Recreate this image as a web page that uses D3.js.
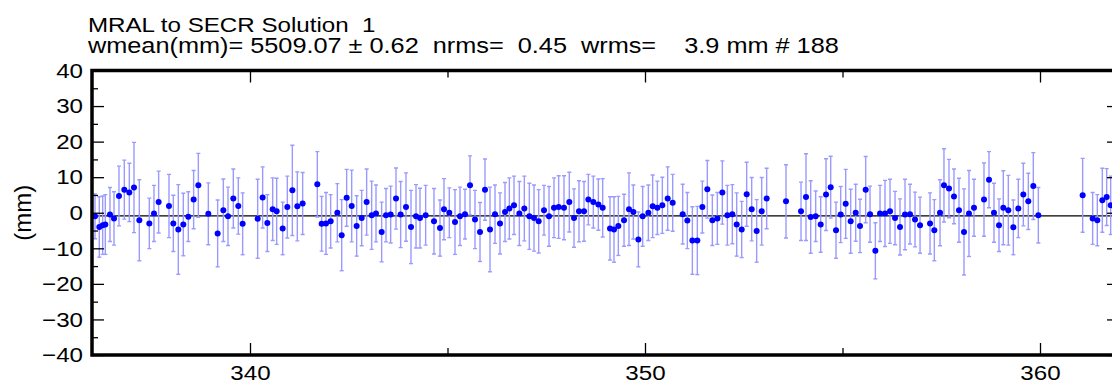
<!DOCTYPE html>
<html>
<head>
<meta charset="utf-8">
<script src="https://cdn.jsdelivr.net/npm/d3@7/dist/d3.min.js"></script>
<style>
    body { margin: 0; background: #fff; }
    text { font-family: "Liberation Sans", Arial, Helvetica, sans-serif; fill: #000; white-space: pre; }
</style>
</head>
<body>
<div id="chart"></div>
<script>
// title lines
const titleLines = [
    'MRAL to SECR Solution  1',
    'wmean(mm)= 5509.07 \u00b1 0.62  nrms=  0.45  wrms=    3.9 mm # 188'
];
const titleSizes = [21, 22];
const yLabel = '(mm)';

// axes
const xDomain = [336, 362];
const yDomain = [-40, 40];
const xMajorTicks = [340, 350, 360];
const xMinorTicks = [345, 355];
const yMajorTicks = [-40, -30, -20, -10, 0, 10, 20, 30, 40];
const yMinorTicks = [-35, -25, -15, -5, 5, 15, 25, 35];
const refLevel = -0.9;

// day of year
const days = [
    336.076, 336.185, 336.270, 336.337, 336.455, 336.557, 336.683, 336.818, 336.945, 337.063, 337.198,
    337.451, 337.569, 337.687, 337.949, 338.059, 338.185, 338.312, 338.438, 338.573, 338.692,
    338.945, 339.181, 339.325, 339.443, 339.578, 339.704, 339.814, 340.194, 340.320,
    340.439, 340.574, 340.675, 340.827, 340.945, 341.072, 341.198, 341.333, 341.704, 341.814,
    341.924, 342.042, 342.211, 342.321, 342.447, 342.574, 342.700, 342.827, 342.953, 343.080,
    343.190, 343.333, 343.443, 343.561, 343.696, 343.814, 343.949, 344.076, 344.203, 344.304, 344.447,
    344.658, 344.810, 344.911, 345.046, 345.190, 345.316, 345.443, 345.570, 345.696, 345.823,
    345.949, 346.076, 346.203, 346.329, 346.456, 346.566, 346.684, 346.819, 346.945, 347.072,
    347.190, 347.308, 347.443, 347.570, 347.696, 347.814, 347.949, 348.084, 348.203, 348.329,
    348.456, 348.566, 348.692, 348.819,
    348.929, 349.114, 349.215, 349.325, 349.469, 349.595, 349.705, 349.832, 349.941, 350.085,
    350.194, 350.313, 350.439, 350.574, 350.701, 350.954, 351.072, 351.199, 351.325, 351.452,
    351.578, 351.705, 351.832, 351.958, 352.085, 352.211, 352.321, 352.448, 352.574, 352.701,
    352.827, 352.954, 353.080,
    353.570, 353.950, 354.076, 354.195, 354.321, 354.448, 354.583, 354.701, 354.836, 354.954,
    355.081, 355.207, 355.334, 355.443, 355.587, 355.697, 355.832, 355.950, 356.076, 356.203,
    356.330, 356.456, 356.583, 356.709, 356.836, 356.963, 357.216, 357.325, 357.469,
    357.569, 357.696, 357.822, 357.949, 358.076, 358.202, 358.329, 358.582, 358.709, 358.835,
    358.962, 359.071, 359.198, 359.325, 359.451, 359.578, 359.704, 359.831, 359.958,
    361.080, 361.333, 361.451, 361.578, 361.688, 361.789
];

// residuals (mm)
const values = [
    -1.0, -4.0, -3.5, -3.3, -0.5, -1.6, 4.7, 6.5, 5.7, 7.1, -2.1,
    -3.0, -0.2, 3.0, 1.9, -3.0, -4.7, -3.3, -1.1, 3.7, 7.7,
    -0.3, -5.8, 0.7, -1.0, 4.0, 1.9, -3.1, -1.7, 4.3,
    -2.9, 1.0, 0.4, -4.4, 1.6, 6.3, 1.8, 2.6, 8.0, -3.1,
    -3.0, -2.4, 0.0, -6.3, 4.2, 1.9, -3.7, -1.5, 3.0, -0.7,
    -0.2, -5.4, -0.7, -0.5, 4.0, -0.5, 1.6, -4.0, -1.0, -1.5, -0.7,
    -2.4, -4.3, 1.0, 0.0, -2.6, -1.0, -0.4, 7.7, -1.9, -5.4,
    6.5, -4.7, -0.4, -3.0, 0.2, 1.2, 2.1, -0.2, 1.2, -1.0,
    -1.5, -2.4, 0.7, -1.0, 1.4, 1.6, 1.4, 3.0, -1.5, 0.4,
    0.4, 3.7, 3.0, 2.3,
    1.4, -4.4, -4.7, -3.7, -2.1, 1.0, 0.2, -7.5, -1.0, 0.0,
    1.8, 1.4, 2.1, 4.0, 2.8, -0.4, -2.2, -7.8, -7.8, 1.6,
    6.6, -2.1, -1.6, 5.7, -0.7, -0.4, -3.3, -4.7, 5.2, 1.0,
    -5.1, 0.4, 4.0,
    3.2, 0.4, 4.4, -1.2, -1.0, -3.3, 5.1, 7.2, -4.9, -0.5,
    2.5, -2.4, 0.0, -3.7, 6.5, -0.4, -10.7, -0.2, -0.2, 0.4,
    -1.5, -4.0, -0.5, -0.4, -1.9, -3.5, -3.0, -4.9, 0.0,
    7.7, 6.8, 4.6, 0.7, -5.4, -0.2, 1.4, 3.7, 9.3, 0.0,
    -3.5, 1.4, 0.7, -4.1, 1.2, 5.1, 3.2, 7.5, -0.7,
    4.9, -1.6, -2.1, 3.5, 4.4, 2.1
];

// 1-sigma (mm)
const sigmas = [
    6.3, 8.5, 8.2, 8.4, 7.6, 7.5, 8.4, 8.3, 8.2, 12.7, 11.4,
    7.1, 7.9, 8.7, 8.9, 7.9, 12.6, 8.8, 7.0, 8.2, 9.0,
    8.7, 9.4, 8.8, 8.2, 8.3, 7.9, 8.7, 11.1, 8.6,
    8.0, 8.8, 9.3, 7.4, 8.7, 12.7, 9.7, 8.7, 9.2, 7.7,
    8.7, 7.5, 8.2, 10.0, 8.0, 10.1, 8.5, 7.8, 9.3, 9.6,
    8.0, 8.4, 7.5, 8.0, 8.6, 9.3, 9.6, 10.3, 8.9, 8.4, 8.4,
    9.2, 7.9, 8.6, 7.0, 9.1, 8.2, 7.0, 8.3, 8.2, 8.3,
    8.6, 11.9, 8.2, 8.6, 8.3, 8.6, 8.2, 9.0, 9.1, 9.3,
    9.3, 8.9, 7.0, 8.4, 8.4, 8.8, 9.0, 8.4, 8.2, 8.6,
    8.4, 7.1, 7.3, 7.2,
    8.2, 8.9, 9.2, 8.3, 7.3, 10.2, 7.6, 7.7, 8.4, 7.8,
    8.8, 7.5, 7.9, 8.9, 8.0, 8.4, 7.9, 9.5, 9.6, 7.3,
    8.1, 7.1, 7.3, 8.9, 8.4, 8.3, 8.9, 7.9, 9.0, 8.9,
    8.8, 9.5, 8.5,
    10.3, 8.2, 12.2, 10.2, 7.1, 7.8, 10.1, 8.7, 7.9, 7.9,
    9.7, 9.0, 8.0, 7.5, 9.3, 7.9, 7.9, 7.9, 9.3, 9.0,
    7.5, 7.9, 9.9, 8.4, 7.7, 7.9, 8.6, 8.6, 9.3,
    10.3, 8.2, 7.7, 9.0, 12.1, 12.1, 8.0, 10.3, 7.9, 8.3,
    7.4, 10.4, 9.8, 7.7, 8.2, 8.8, 7.9, 9.4, 7.8,
    10.4, 7.3, 7.2, 9.0, 8.0, 8.2
];

const W = 1112, H = 386;
const margin = { top: 70.5, right: -7, bottom: 31, left: 92 };
const width = W - margin.left - margin.right;
const height = H - margin.top - margin.bottom;
const stretch = 1.15;   // text in the picture is a bit wide

const points = days.map((d, i) => ({ day: d, value: values[i], sigma: sigmas[i] }));

const root = d3.select('#chart')
    .append('svg')
    .attr('width', W)
    .attr('height', H);

const svg = root.append('g')
    .attr('transform', `translate(${margin.left},${margin.top})`);

const x = d3.scaleLinear().domain(xDomain).range([0, width]);
const y = d3.scaleLinear().domain(yDomain).range([height, 0]);

// clip marks to plot box
root.append('defs').append('clipPath').attr('id', 'plot-clip')
    .append('rect').attr('width', width).attr('height', height);

// title
const title = root.append('g').attr('transform', `translate(88,0) scale(${stretch},1)`);
title.selectAll('text')
    .data(titleLines)
    .enter()
    .append('text')
    .attr('x', 0)
    .attr('y', (d, i) => 32 + i * 21)
    .attr('font-size', (d, i) => titleSizes[i])
    .text(d => d);

// y label
root.append('text')
    .attr('transform', `translate(31,${margin.top + y(0)}) rotate(-90)`)
    .attr('text-anchor', 'middle')
    .attr('font-size', 24)
    .text(yLabel);

// reference line
svg.append('line')
    .attr('x1', 0).attr('x2', width)
    .attr('y1', y(refLevel)).attr('y2', y(refLevel))
    .attr('stroke', '#000')
    .attr('stroke-width', 1.2);

// error bars
const marks = svg.append('g').attr('clip-path', 'url(#plot-clip)');
const bars = marks.selectAll('.err')
    .data(points)
    .enter()
    .append('g')
    .attr('class', 'err')
    .attr('stroke', '#9a9aff')
    .attr('stroke-width', 1.4);
bars.append('line')
    .attr('x1', d => x(d.day)).attr('x2', d => x(d.day))
    .attr('y1', d => y(d.value + d.sigma)).attr('y2', d => y(d.value - d.sigma));
bars.append('line')
    .attr('x1', d => x(d.day) - 2).attr('x2', d => x(d.day) + 2)
    .attr('y1', d => y(d.value + d.sigma)).attr('y2', d => y(d.value + d.sigma));
bars.append('line')
    .attr('x1', d => x(d.day) - 2).attr('x2', d => x(d.day) + 2)
    .attr('y1', d => y(d.value - d.sigma)).attr('y2', d => y(d.value - d.sigma));

// points
marks.selectAll('.pt')
    .data(points)
    .enter()
    .append('circle')
    .attr('class', 'pt')
    .attr('cx', d => x(d.day))
    .attr('cy', d => y(d.value))
    .attr('r', 3)
    .attr('fill', '#0000ff');

// axes, ticks inward
const tickStyle = g => {
    g.select('.domain').remove();
    g.selectAll('.tick line').attr('stroke', '#000').attr('stroke-width', 1.3);
    g.selectAll('.tick text').attr('font-size', 21).attr('fill', '#000');
};

svg.append('g')
    .attr('class', 'x-axis')
    .attr('transform', `translate(0,${height})`)
    .call(d3.axisBottom(x).tickValues(xMajorTicks).tickSize(-12).tickPadding(10).tickFormat(d3.format('d')))
    .call(tickStyle)
    .call(g => g.selectAll('.tick text').attr('transform', `scale(${stretch},1)`));
svg.append('g')
    .attr('transform', `translate(0,${height})`)
    .call(d3.axisBottom(x).tickValues(xMinorTicks).tickSize(-7).tickFormat(''))
    .call(tickStyle);
svg.append('g')
    .call(d3.axisTop(x).tickValues(xMajorTicks).tickSize(-12).tickFormat(''))
    .call(tickStyle);
svg.append('g')
    .call(d3.axisTop(x).tickValues(xMinorTicks).tickSize(-7).tickFormat(''))
    .call(tickStyle);

svg.append('g')
    .attr('class', 'y-axis')
    .call(d3.axisLeft(y).tickValues(yMajorTicks).tickSize(-12).tickPadding(9).tickFormat(d3.format('d')))
    .call(tickStyle)
    .call(g => g.selectAll('.tick text').attr('x', -9 / stretch).attr('transform', `scale(${stretch},1)`));
svg.append('g')
    .call(d3.axisLeft(y).tickValues(yMinorTicks).tickSize(-6).tickFormat(''))
    .call(tickStyle);
svg.append('g')
    .attr('transform', `translate(${width},0)`)
    .call(d3.axisRight(y).tickValues(yMajorTicks).tickSize(-12).tickFormat(''))
    .call(tickStyle);
svg.append('g')
    .attr('transform', `translate(${width},0)`)
    .call(d3.axisRight(y).tickValues(yMinorTicks).tickSize(-6).tickFormat(''))
    .call(tickStyle);

// frame
svg.append('rect')
    .attr('width', width)
    .attr('height', height)
    .attr('fill', 'none')
    .attr('stroke', '#000')
    .attr('stroke-width', 3.5);
</script>
</body>
</html>
